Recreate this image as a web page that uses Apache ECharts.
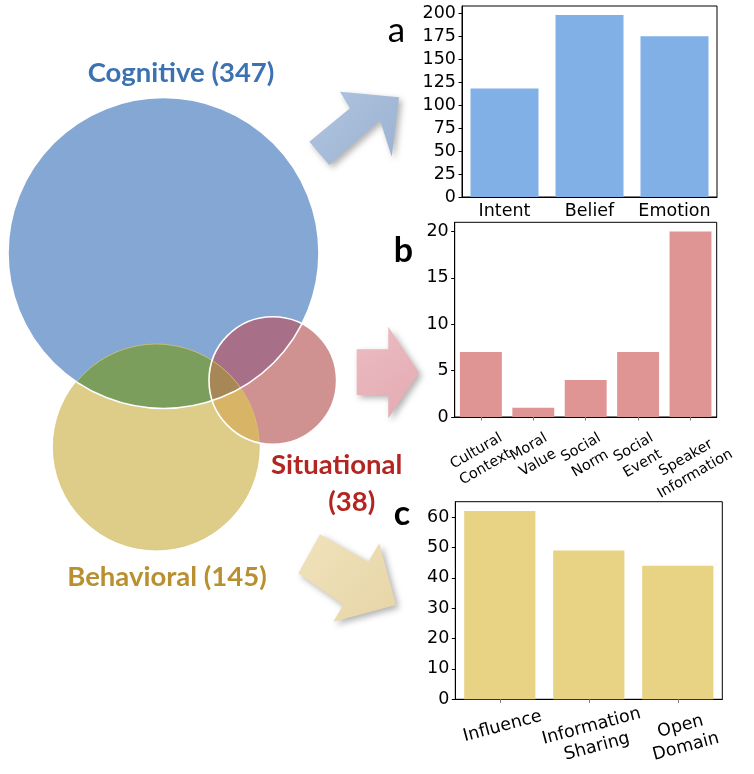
<!DOCTYPE html>
<html><head><meta charset="utf-8">
<script src="https://cdn.jsdelivr.net/npm/echarts@6/dist/echarts.min.js"></script>
<style>html,body{margin:0;padding:0;background:#fff}#c{width:754px;height:774px}</style>
</head><body><div id="c"></div>
<script>
// ---------------- data ----------------
const vennNames = ['Cognitive', 'Behavioral', 'Situational'];
const vennCounts = [347, 145, 38];
const panelLetters = ['a', 'b', 'c'];

const cogCats = ['Intent', 'Belief', 'Emotion'];
const cogVals = [118, 198, 175];
const cogTicks = [0, 25, 50, 75, 100, 125, 150, 175, 200];

const sitCats = ['Cultural\nContext', 'Moral\nValue', 'Social\nNorm', 'Social\nEvent', 'Speaker\nInformation'];
const sitVals = [7, 1, 4, 7, 20];
const sitTicks = [0, 5, 10, 15, 20];

const behCats = ['Influence', 'Information\nSharing', 'Open\nDomain'];
const behVals = [62, 49, 44];
const behTicks = [0, 10, 20, 30, 40, 50, 60];

// ---------------- layout / style ----------------
const FONT = 'DejaVu Sans';
const circles = [
  { cx: 163.5, cy: 253, r: 155.5 },
  { cx: 156.3, cy: 447, r: 103 },
  { cx: 272.8, cy: 380.5, r: 63.8 }
];
const regionColors = {
  A: '#85a7d4', B: '#ddcd89', C: '#cf9290',
  AB: '#7b9e5d', AC: '#a87088', BC: '#d8b467', ABC: '#a68755'
};
const labelColors = ['#3d72b2', '#b8902f', '#b22520'];

function circlePoly(c, n) {
  const pts = [];
  for (let i = 0; i < n; i++) {
    const t = 2 * Math.PI * i / n;
    pts.push([c.cx + c.r * Math.cos(t), c.cy + c.r * Math.sin(t)]);
  }
  return pts;
}
function clip(subject, clipPoly) {
  let output = subject;
  for (let i = 0; i < clipPoly.length; i++) {
    if (!output.length) break;
    const A = clipPoly[i], B = clipPoly[(i + 1) % clipPoly.length];
    const side = p => (B[0] - A[0]) * (p[1] - A[1]) - (B[1] - A[1]) * (p[0] - A[0]);
    const input = output; output = [];
    for (let j = 0; j < input.length; j++) {
      const P = input[j], Q = input[(j + 1) % input.length];
      const sp = side(P), sq = side(Q);
      if (sp >= 0) output.push(P);
      if ((sp >= 0) !== (sq >= 0)) {
        const t = sp / (sp - sq);
        output.push([P[0] + t * (Q[0] - P[0]), P[1] + t * (Q[1] - P[1])]);
      }
    }
  }
  return output;
}
const N = 360;
const polys = circles.map(c => circlePoly(c, N));
const pAB = clip(polys[0], polys[1]);
const pAC = clip(polys[0], polys[2]);
const pBC = clip(polys[1], polys[2]);
const pABC = clip(pAB, polys[2]);

const graphics = [];
graphics.push({ type: 'circle', shape: circles[0], style: { fill: regionColors.A }, z: 1 });
graphics.push({ type: 'circle', shape: circles[1], style: { fill: regionColors.B }, z: 1 });
graphics.push({ type: 'circle', shape: circles[2], style: { fill: regionColors.C }, z: 1 });
graphics.push({ type: 'polygon', shape: { points: pAB }, style: { fill: regionColors.AB }, z: 2 });
graphics.push({ type: 'polygon', shape: { points: pAC }, style: { fill: regionColors.AC }, z: 2 });
graphics.push({ type: 'polygon', shape: { points: pBC }, style: { fill: regionColors.BC }, z: 2 });
graphics.push({ type: 'polygon', shape: { points: pABC }, style: { fill: regionColors.ABC }, z: 3 });
graphics.push({ type: 'circle', shape: circles[1], style: { fill: null, stroke: 'rgba(215,195,120,0.7)', lineWidth: 1 }, z: 4 });
graphics.push({ type: 'circle', shape: circles[0], style: { fill: null, stroke: '#ffffff', lineWidth: 1.6 }, z: 5 });
graphics.push({ type: 'circle', shape: circles[2], style: { fill: null, stroke: '#ffffff', lineWidth: 1.6 }, z: 5 });

// venn labels
const vfont = 'bold 27.5px Lato';
graphics.push({ type: 'text', x: 181, y: 73, z: 6, style: { text: vennNames[0] + ' (' + vennCounts[0] + ')', font: vfont, fill: labelColors[0], align: 'center', verticalAlign: 'middle' } });
graphics.push({ type: 'text', x: 167, y: 577, z: 6, style: { text: vennNames[1] + ' (' + vennCounts[1] + ')', font: vfont, fill: labelColors[1], align: 'center', verticalAlign: 'middle' } });
graphics.push({ type: 'text', x: 336.7, y: 465, z: 6, style: { text: vennNames[2], font: vfont, fill: labelColors[2], align: 'center', verticalAlign: 'middle' } });
graphics.push({ type: 'text', x: 351.7, y: 502, z: 6, style: { text: '(' + vennCounts[2] + ')', font: vfont, fill: labelColors[2], align: 'center', verticalAlign: 'middle' } });

// arrows
function arrow(points, c1, c2) {
  return {
    type: 'polygon', z: 2, shape: { points },
    style: {
      fill: { type: 'linear', x: 0, y: 0, x2: 1, y2: 1, colorStops: [{ offset: 0, color: c1 }, { offset: 1, color: c2 }] },
      shadowBlur: 6, shadowColor: 'rgba(0,0,0,0.3)', shadowOffsetX: 3, shadowOffsetY: 3
    }
  };
}
graphics.push(arrow([[309.3,141.7],[350,108.3],[340,91.7],[399,97.3],[391.7,156.7],[380,120],[329.3,165]], '#b0c4de', '#9ab2d2'));
graphics.push(arrow([[356.7,349.3],[388.3,349.3],[388.3,326.7],[419,372.7],[388.3,418.3],[388.3,395],[356.7,395]], '#ecbcc2', '#e4aab2'));
graphics.push(arrow([[320,534.3],[368.3,561.7],[379.3,543.3],[396,605],[333.3,621.7],[343.3,605],[298.3,573.3]], '#f0e2bc', '#e6d5a6'));

// panel letters
graphics.push({ type: 'text', x: 396.5, y: 31, z: 6, style: { text: panelLetters[0], font: '35px Lato', fill: '#000', align: 'center', verticalAlign: 'middle' } });
graphics.push({ type: 'text', x: 403.3, y: 251, z: 6, style: { text: panelLetters[1], font: 'bold 34px Lato', fill: '#000', align: 'center', verticalAlign: 'middle' } });
graphics.push({ type: 'text', x: 402, y: 514, z: 6, style: { text: panelLetters[2], font: 'bold 34px Lato', fill: '#000', align: 'center', verticalAlign: 'middle' } });

// ---------------- bar charts ----------------
const grids = [
  { left: 462, top: 6, width: 255, height: 191 },
  { left: 454.7, top: 222.3, width: 262, height: 194.7 },
  { left: 455.3, top: 501.7, width: 267, height: 197.6 }
].map(g => Object.assign(g, { show: true, borderColor: '#000', borderWidth: 1, backgroundColor: 'transparent', containLabel: false, outerBoundsMode: 'none' }));

// matplotlib-like placement of rotated centred tick labels: the rotated bbox top sits just under the axis.
// Spacers (rich text) push each label straight down by the amount its own width requires.
const measureCtx = document.createElement('canvas').getContext('2d');
function rotatedLabel(catList, fontSize, lineHeight, angleDeg, baseMargin, pad) {
  measureCtx.font = fontSize + 'px ' + FONT;
  const th = angleDeg * Math.PI / 180;
  const rich = { t: { fontFamily: FONT, fontSize, lineHeight, color: '#000', align: 'center' } };
  const shifts = catList.map((c, i) => {
    const lines = c.split('\n');
    const w = Math.max(...lines.map(l => measureCtx.measureText(l).width));
    const h = lines.length * lineHeight;
    const depth = pad + (w * Math.sin(th) + h * Math.cos(th)) / 2;
    const D = Math.max(0, depth - baseMargin);
    rich['s' + i] = { fontSize: 1, height: 2 * D * Math.cos(th), lineHeight: 2 * D * Math.cos(th), align: 'center' };
    rich['w' + i] = { fontSize: 1, width: 2 * D * Math.sin(th), align: 'center' };
    return D;
  });
  return {
    rich,
    formatter: (value, idx) => {
      const has = shifts[idx] > 0.3;
      const body = value.split('\n').map(l => '{t|' + l + '}' + (has ? '{w' + idx + '| }' : '')).join('\n');
      return has ? '{s' + idx + '| }\n' + body : body;
    }
  };
}

const LABEL_CAL = 6; // ECharts' middle anchor vs glyph centre
const cats = [cogCats, sitCats, behCats];
const vals = [cogVals, sitVals, behVals];
const ticks = [cogTicks, sitTicks, behTicks];
const barColors = ['#80b0e5', '#e09595', '#e8d283'];
const xLabelStyles = [
  { fontSize: 17.5, lineHeight: 21, margin: 4, rotate: 0, align: 'center', verticalAlign: 'top' },
  Object.assign({ fontSize: 14.5, lineHeight: 18.5, margin: 31.5 + LABEL_CAL, rotate: 30, align: 'center', verticalAlign: 'middle' },
    rotatedLabel(sitCats, 14.5, 18.5, 30, 31.5, 6)),
  { fontSize: 17.5, lineHeight: 21, margin: 17, rotate: 15, align: 'center', verticalAlign: 'top' }
];

const xAxes = [], yAxes = [], series = [];
for (let i = 0; i < 3; i++) {
  xAxes.push({
    gridIndex: i, type: 'category', data: cats[i],
    axisLine: { show: true, lineStyle: { color: '#000', width: 1 } },
    axisTick: { show: i > 0, alignWithLabel: true, length: 3.5, lineStyle: { color: '#777' } },
    axisLabel: Object.assign({ interval: 0, fontFamily: FONT, color: '#000' }, xLabelStyles[i]),
    splitLine: { show: false }
  });
  yAxes.push({
    gridIndex: i, type: 'value', min: 0, max: Math.max(...vals[i]) * 1.05,
    axisLine: { show: true, lineStyle: { color: '#000', width: 1 } },
    axisTick: { show: true, length: 3.5, lineStyle: { color: '#000' }, customValues: ticks[i] },
    axisLabel: { customValues: ticks[i], fontFamily: FONT, fontSize: 17.5, color: '#000', margin: 6 },
    splitLine: { show: false }
  });
  series.push({
    type: 'bar', xAxisIndex: i, yAxisIndex: i, data: vals[i],
    barCategoryGap: '20%', itemStyle: { color: barColors[i] }, silent: true, animation: false
  });
}

const chart = echarts.init(document.getElementById('c'), null, { renderer: 'canvas' });
chart.setOption({
  animation: false,
  backgroundColor: '#fff',
  grid: grids, xAxis: xAxes, yAxis: yAxes, series,
  graphic: { elements: graphics }
});
</script></body></html>
